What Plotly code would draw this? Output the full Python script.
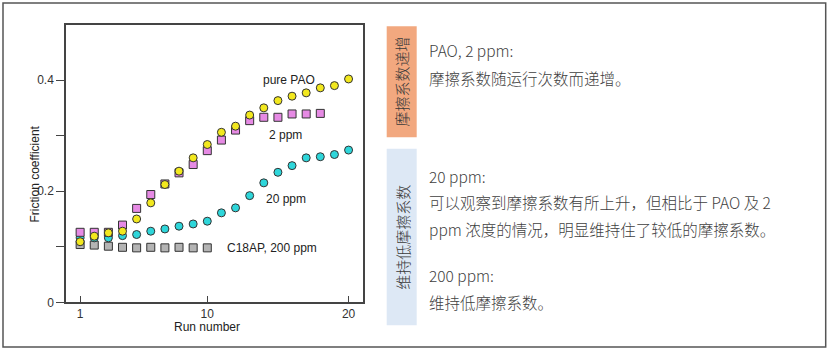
import plotly.graph_objects as go

W, H = 831, 360

run_pao = list(range(1, 21))
pure_pao = [0.109, 0.119, 0.125, 0.128, 0.150, 0.179, 0.212, 0.236, 0.260, 0.284,
            0.306, 0.317, 0.337, 0.350, 0.363, 0.371, 0.377, 0.386, 0.390, 0.402]
run_2ppm = list(range(1, 19))
ppm2 = [0.126, 0.126, 0.126, 0.139, 0.169, 0.194, 0.213, 0.233, 0.248, 0.273,
        0.292, 0.310, 0.327, 0.333, 0.333, 0.339, 0.339, 0.340]
run_20ppm = list(range(1, 21))
ppm20 = [0.116, 0.116, 0.116, 0.120, 0.122, 0.128, 0.132, 0.137, 0.141, 0.146,
         0.161, 0.170, 0.192, 0.215, 0.234, 0.246, 0.260, 0.262, 0.266, 0.274]
run_200ppm = list(range(1, 11))
ppm200 = [0.104, 0.103, 0.101, 0.099, 0.098, 0.099, 0.098, 0.099, 0.098, 0.098]

x_ticks = [1, 10, 20]
y_ticks = [0, 0.1, 0.2, 0.3, 0.4]
y_ticktext = ["0", "", "0.2", "", "0.4"]

series_labels = [
    ("pure PAO", 13.77, 0.400),
    ("2 ppm", 14.25, 0.301),
    ("20 ppm", 14.0, 0.186),
    ("C18AP, 200 ppm", 11.23, 0.098),
]

side_tags = [
    ("摩擦系数递增", "#F2A87F", 26.7, 140.0),
    ("维持低摩擦系数", "#DDE8F5", 151.7, 331.7),
]
text_lines = [
    ("PAO, 2 ppm:", 51),
    ("摩擦系数随运行次数而递增。", 80),
    ("20 ppm:", 179),
    ("可以观察到摩擦系数有所上升，但相比于 PAO 及 2", 206),
    ("ppm 浓度的情况，明显维持住了较低的摩擦系数。", 234),
    ("200 ppm:", 280.5),
    ("维持低摩擦系数。", 308),
]

AX_FONT = "Liberation Sans, Arial, sans-serif"
CJK_FONT = "Noto Sans CJK SC, Noto Sans, sans-serif"

fig = go.Figure()
mk_line = dict(color="#333333", width=1)
fig.add_trace(go.Scatter(x=run_200ppm, y=ppm200, mode="markers",
                         marker=dict(symbol="square", size=8, color="#B4B4B4", line=mk_line)))
fig.add_trace(go.Scatter(x=run_20ppm, y=ppm20, mode="markers",
                         marker=dict(symbol="circle", size=8, color="#2ED6DA", line=mk_line)))
fig.add_trace(go.Scatter(x=run_2ppm, y=ppm2, mode="markers",
                         marker=dict(symbol="square", size=8, color="#E68AE4", line=mk_line)))
fig.add_trace(go.Scatter(x=run_pao, y=pure_pao, mode="markers",
                         marker=dict(symbol="circle", size=8, color="#F2E81E", line=mk_line)))

x0, x1 = 66 / W, 362.7 / W
y0, y1 = 1 - 308.3 / H, 1 - 25 / H

fig.update_layout(
    width=W, height=H, autosize=False,
    margin=dict(l=0, r=0, t=0, b=0),
    paper_bgcolor="white", plot_bgcolor="white",
    showlegend=False,
    xaxis=dict(domain=[x0, x1], range=[0, 21], tickvals=x_ticks,
               ticks="inside", ticklen=7, tickcolor="#444", tickwidth=1,
               showline=True, linecolor="#444", linewidth=1.5, mirror=True,
               showgrid=False, zeroline=False,
               tickfont=dict(family=AX_FONT, size=12, color="#333")),
    yaxis=dict(domain=[y0, y1], range=[0, 0.5], tickvals=y_ticks, ticktext=y_ticktext,
               ticks="outside", ticklen=8, tickcolor="#444", tickwidth=1,
               showline=True, linecolor="#444", linewidth=1.5, mirror=True,
               showgrid=False, zeroline=False,
               tickfont=dict(family=AX_FONT, size=12, color="#333")),
)

anns = []
for txt, xv, yv in series_labels:
    anns.append(dict(x=xv, y=yv, xref="x", yref="y", text=txt, showarrow=False,
                     xanchor="left", yanchor="middle",
                     font=dict(family=AX_FONT, size=12, color="#222")))
anns.append(dict(x=10, y=1 - 333 / H, xref="x", yref="paper", text="Run number",
                 showarrow=False, xanchor="center", yanchor="middle",
                 font=dict(family=AX_FONT, size=12, color="#222")))
anns.append(dict(x=35 / W, y=1 - 178 / H, xref="paper", yref="paper", text="Friction coefficient",
                 showarrow=False, textangle=-90, xanchor="center", yanchor="middle",
                 font=dict(family=AX_FONT, size=12, color="#222")))

shapes = [dict(type="rect", xref="paper", yref="paper",
               x0=3 / W, x1=825.7 / W, y0=1 - 354 / H, y1=1 - 3 / H,
               line=dict(color="#555", width=1.5), fillcolor="rgba(0,0,0,0)", layer="below")]

for txt, col, ty0, ty1 in side_tags:
    shapes.append(dict(type="rect", xref="paper", yref="paper",
                       x0=386.7 / W, x1=416.7 / W, y0=1 - ty1 / H, y1=1 - ty0 / H,
                       line=dict(width=0), fillcolor=col, layer="below"))
    anns.append(dict(x=401.7 / W, y=1 - (ty0 + ty1) / 2 / H, xref="paper", yref="paper",
                     text=txt, showarrow=False, textangle=-90,
                     xanchor="center", yanchor="middle",
                     font=dict(family=CJK_FONT, size=15, color="#3a3a3a", weight=300)))

for txt, yc in text_lines:
    anns.append(dict(x=427 / W, y=1 - yc / H, xref="paper", yref="paper", text=txt,
                     showarrow=False, xanchor="left", yanchor="middle",
                     font=dict(family=CJK_FONT, size=15.5, color="#3f3f3f", weight=300)))

fig.update_layout(annotations=anns, shapes=shapes)
fig.write_html(
    "out.html",
    config={"displayModeBar": False},
    post_script=(
        "var d=document.documentElement,b=document.body;"
        "d.style.margin='0';d.style.padding='0';d.style.overflow='hidden';"
        "b.style.margin='0';b.style.padding='0';b.style.overflow='hidden';"
    ),
)
